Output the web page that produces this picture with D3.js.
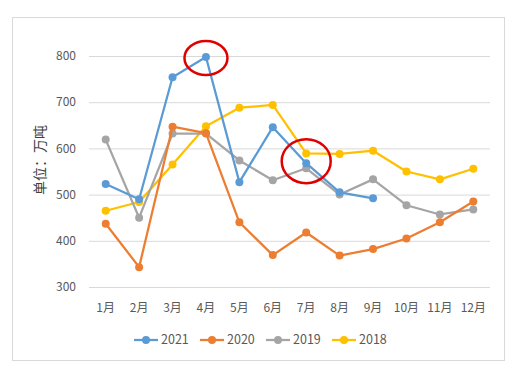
<!DOCTYPE html>
<html lang="zh">
  <head>
    <meta charset="UTF-8" />
    <title>月度数据</title>
    <script src="https://d3js.org/d3.v7.min.js"></script>
    <style>
      body { margin: 0; background: #fff; }
      text { font-family: "Noto Sans CJK SC", "Noto Sans", sans-serif; fill: #595959; }
    </style>
  </head>
  <body>
    <svg width="529" height="374"></svg>
    <script>
      // data
      let months = ["1月", "2月", "3月", "4月", "5月", "6月", "7月", "8月", "9月", "10月", "11月", "12月"];
      let yTicks = [300, 400, 500, 600, 700, 800];
      let v2021 = [523, 490, 754, 798, 527, 646, 568, 505, 492];
      let v2020 = [437, 343, 647, 633, 440, 369, 418, 368, 382, 405, 440, 485];
      let v2019 = [619, 450, 632, 632, 574, 531, 557, 500, 533, 477, 457, 468];
      let v2018 = [465, 484, 565, 648, 688, 694, 589, 588, 595, 550, 533, 556];

      let series = [
        { name: "2021", values: v2021, color: "#5b9bd5" },
        { name: "2020", values: v2020, color: "#ed7d31" },
        { name: "2019", values: v2019, color: "#a5a5a5" },
        { name: "2018", values: v2018, color: "#ffc000" },
      ];

      // highlighted points (series, month index)
      let marks = [
        { s: "2021", i: 3, rx: 21.5, ry: 17, dx: 0, dy: 1 },
        { s: "2021", i: 6, rx: 24.5, ry: 22, dx: 0, dy: -2 },
      ];

      let svg = d3.select("svg");

      // outer frame
      svg.append("rect")
        .attr("x", 12.5).attr("y", 17.5)
        .attr("width", 492).attr("height", 343)
        .attr("fill", "#fff").attr("stroke", "#d9d9d9");

      let x = d3.scaleBand().domain(months).range([89, 490]);
      let y = d3.scaleLinear().domain([300, 800]).range([287, 56]);
      let cx = (i) => x(months[i]) + x.bandwidth() / 2;

      // gridlines
      svg.append("g")
        .selectAll("line")
        .data(yTicks)
        .enter()
        .append("line")
        .attr("x1", 89).attr("x2", 490)
        .attr("y1", (d) => y(d) + 0.5).attr("y2", (d) => y(d) + 0.5)
        .attr("stroke", "#d9d9d9");

      // y axis labels
      svg.append("g")
        .selectAll("text")
        .data(yTicks)
        .enter()
        .append("text")
        .attr("x", 76).attr("y", (d) => y(d))
        .attr("dy", "0.35em")
        .attr("text-anchor", "end")
        .attr("font-size", 12)
        .text((d) => d);

      // x axis labels
      svg.append("g")
        .selectAll("text")
        .data(months)
        .enter()
        .append("text")
        .attr("x", (d, i) => cx(i)).attr("y", 308)
        .attr("dy", "0.35em")
        .attr("text-anchor", "middle")
        .attr("font-size", 12)
        .text((d) => d);

      svg.append("text")
        .attr("transform", "translate(40,160) rotate(-90)")
        .attr("text-anchor", "middle")
        .attr("dy", "0.35em")
        .attr("font-size", 14)
        .style("fill", "#404040")
        .text("单位：万吨");

      let line = d3.line().x((d, i) => cx(i)).y((d) => y(d));

      // draw from last to first so 2021 ends up on top
      let g = svg.append("g");
      series.slice().reverse().forEach((s) => {
        g.append("path")
          .datum(s.values)
          .attr("d", line)
          .attr("fill", "none")
          .attr("stroke", s.color)
          .attr("stroke-width", 2.25)
          .attr("stroke-linejoin", "round");
        g.selectAll(null)
          .data(s.values)
          .enter()
          .append("circle")
          .attr("cx", (d, i) => cx(i))
          .attr("cy", (d) => y(d))
          .attr("r", 4)
          .attr("fill", s.color);
      });

      // red ellipses
      svg.append("g")
        .selectAll("ellipse")
        .data(marks)
        .enter()
        .append("ellipse")
        .attr("cx", (d) => cx(d.i) + d.dx)
        .attr("cy", (d) => y(series.find((s) => s.name === d.s).values[d.i]) + d.dy)
        .attr("rx", (d) => d.rx).attr("ry", (d) => d.ry)
        .attr("fill", "none")
        .attr("stroke", "#e00000")
        .attr("stroke-width", 2.5);

      // legend
      let legendX = [134, 200, 266, 332];
      let lg = svg.append("g")
        .selectAll("g")
        .data(series)
        .enter()
        .append("g")
        .attr("transform", (d, i) => `translate(${legendX[i]},340)`);
      lg.append("line")
        .attr("x1", 0).attr("x2", 24)
        .attr("stroke", (d) => d.color)
        .attr("stroke-width", 2.25);
      lg.append("circle")
        .attr("cx", 12).attr("r", 4)
        .attr("fill", (d) => d.color);
      lg.append("text")
        .attr("x", 27).attr("dy", "0.35em")
        .attr("font-size", 12.5)
        .text((d) => d.name);
    </script>
  </body>
</html>
